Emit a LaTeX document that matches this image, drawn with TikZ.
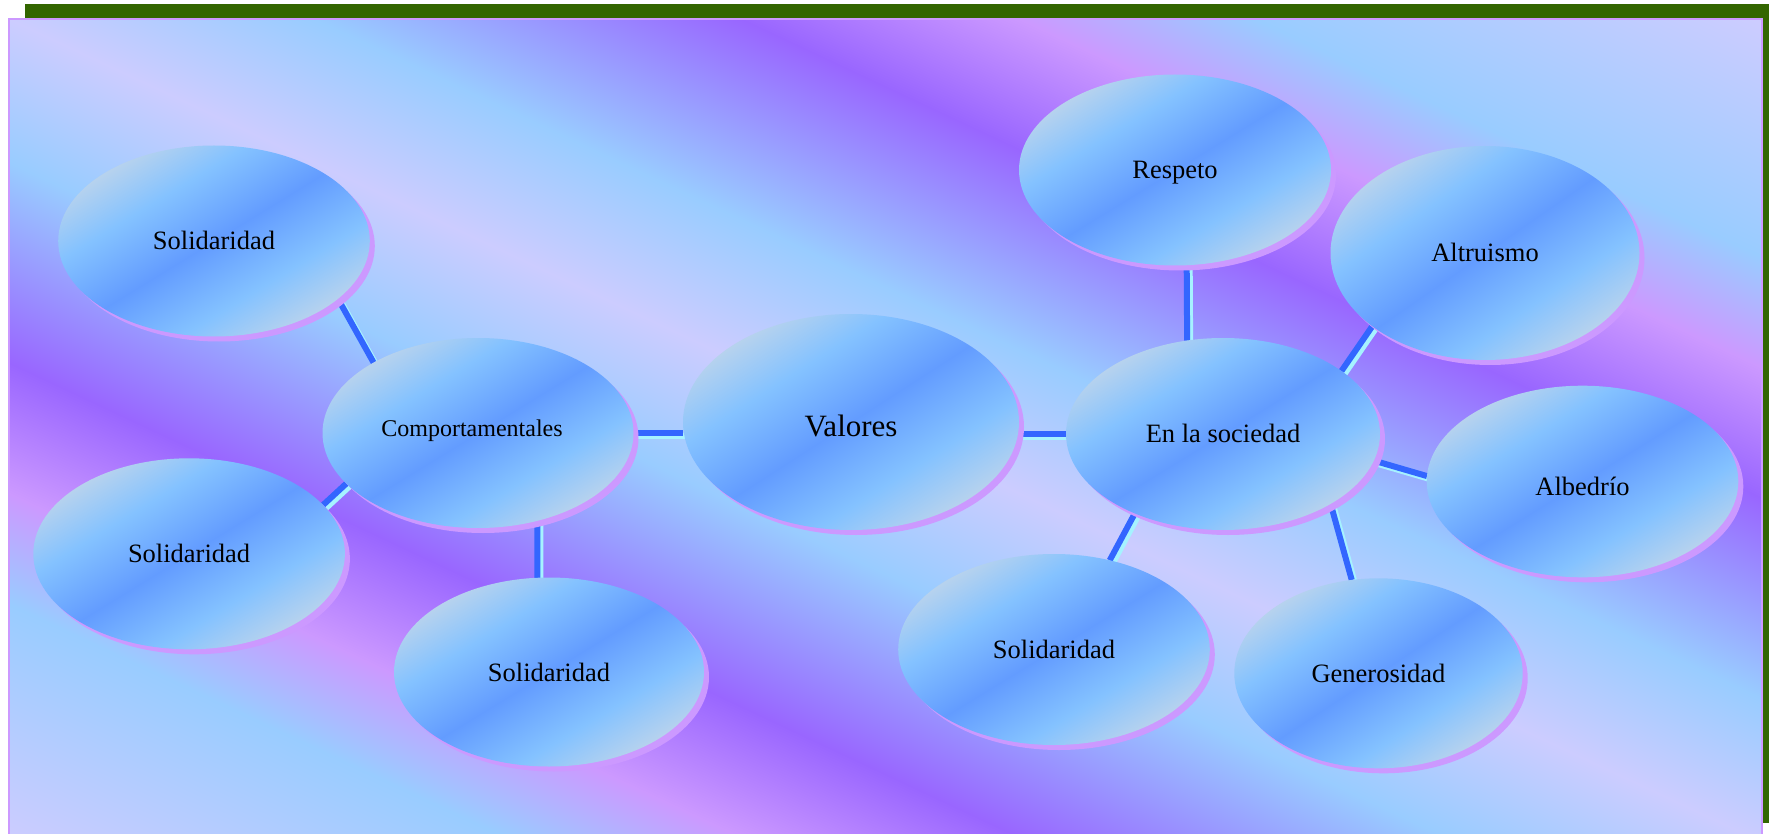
\documentclass[tikz,border=0pt]{standalone}
\usepackage{fontspec}
\setmainfont{Liberation Serif}
\usetikzlibrary{shapes.geometric}
\definecolor{cwA}{HTML}{CCCCFF}
\definecolor{cwB}{HTML}{99CCFF}
\definecolor{cwC}{HTML}{9966FF}
\definecolor{cwD}{HTML}{CC99FF}
\definecolor{bGray}{HTML}{C8CCD8}
\definecolor{bEdge}{HTML}{B6D2EE}
\definecolor{bLight}{HTML}{84C2FF}
\definecolor{bCenter}{HTML}{639CFF}
\definecolor{shpink}{HTML}{CC99FF}
\definecolor{framegreen}{HTML}{336600}
\definecolor{linkblue}{HTML}{3366FF}
\definecolor{linklight}{HTML}{A6F2FF}
\pgfdeclarehorizontalshading{calmwater}{100bp}{color(0bp)=(cwA); color(14.64bp)=(cwA); color(24.72bp)=(cwB); color(29.49bp)=(cwD); color(35.15bp)=(cwC); color(43.81bp)=(cwB); color(50bp)=(cwA); color(56.19bp)=(cwB); color(64.85bp)=(cwC); color(70.51bp)=(cwD); color(75.28bp)=(cwB); color(85.36bp)=(cwA); color(100bp)=(cwA)}
\pgfdeclarehorizontalshading{bubbleshade}{100bp}{color(0bp)=(bGray); color(14.64bp)=(bGray); color(25bp)=(bEdge); color(36bp)=(bLight); color(50bp)=(bCenter); color(64bp)=(bLight); color(75bp)=(bEdge); color(85.36bp)=(bGray); color(100bp)=(bGray)}
\pgfdeclarelayer{back}
\pgfdeclarelayer{lines}
\pgfdeclarelayer{fills}
\pgfsetlayers{back,lines,fills,main}
\newcommand\linkab[2]{%
  \draw[linklo] (#1) -- (#2);
  \draw[linkhi] (#1) -- (#2);}
% name, x, y, rx, ry, node options, text
\newcommand\bub[7]{%
  \node[bubtext, minimum width={2*#4pt}, minimum height={2*#5pt}, #6] (#1) at (#2,#3) {#7};
  \begin{pgfonlayer}{fills}
    \fill[shpink] ([xshift=5pt,yshift=-5pt]#1.center) ellipse[x radius=#4pt, y radius=#5pt];
    \begin{scope}[transform canvas={shift={(#1.center)}, xscale={#4/#5}}]
      \shade[shading=bubbleshade, shading angle=-45] (0,0) circle[radius=#5pt];
    \end{scope}
  \end{pgfonlayer}}
\begin{document}
\begin{tikzpicture}[x=1pt,y=-1pt,
  bubtext/.style={ellipse, inner sep=0pt, outer sep=0pt,
    font=\fontsize{26.5}{30}\selectfont, text height=18pt, text depth=0pt},
  linklo/.style={draw=linklight, line width=6pt, transform canvas={xshift=3pt, yshift=-3pt}},
  linkhi/.style={draw=linkblue, line width=6pt}]
\useasboundingbox (0,0) rectangle (1769,834);
\begin{pgfonlayer}{back}
\fill[framegreen] (25,4) rectangle (1775,823);
\begin{scope}[transform canvas={shift={(885.5,430.5)}, xscale={1753/823}}]
  \shade[shading=calmwater, shading angle=45] (-411.5,-411.5) rectangle (411.5,411.5);
\end{scope}
\draw[shpink, line width=2pt] (9,19) rectangle (1762,842);
\end{pgfonlayer}
\bub{sol1}{214}{241}{155.8}{95.5}{}{Solidaridad}
\bub{comp}{478}{433}{155.5}{95}{font=\fontsize{24}{28}\selectfont, text height=7pt}{\hspace*{-12pt}Comportamentales}
\bub{val}{851}{422}{168}{108}{font=\fontsize{31}{36}\selectfont, text height=29.4pt}{Valores}
\bub{soc}{1223}{434}{157}{96}{text height=17.4pt}{En la sociedad}
\bub{resp}{1175}{170}{156}{95.5}{text height=16.6pt}{Respeto}
\bub{alt}{1485}{253}{154.5}{107}{}{Altruismo}
\bub{alb}{1582.5}{481.5}{155.8}{95.8}{text height=27pt}{Albedrío}
\bub{gen}{1378.5}{673.3}{144.2}{95}{}{Generosidad}
\bub{sol4}{1054}{649.5}{155.8}{95.5}{text height=17.6pt}{Solidaridad}
\bub{sol2}{189.1}{553.8}{155.8}{95.5}{}{Solidaridad}
\bub{sol3}{549}{672}{155}{94.5}{}{Solidaridad}
\begin{pgfonlayer}{lines}
\linkab{sol1.-25.6}{comp.146.9}
\linkab{comp.-159.5}{sol2.20.4}
\linkab{comp.-56.1}{sol3.97.3}
\linkab{comp.east}{comp.east -| val.west}
\linkab{val.east |- soc.west}{soc.west}
\linkab{resp.-83.4}{soc.111.6}
\linkab{soc.28.7}{alt.-147.3}
\linkab{soc.-10.7}{alb.178}
\linkab{soc.-33.9}{gen.106.7}
\linkab{soc.-138.4}{sol4.58}
\end{pgfonlayer}
\end{tikzpicture}
\end{document}
